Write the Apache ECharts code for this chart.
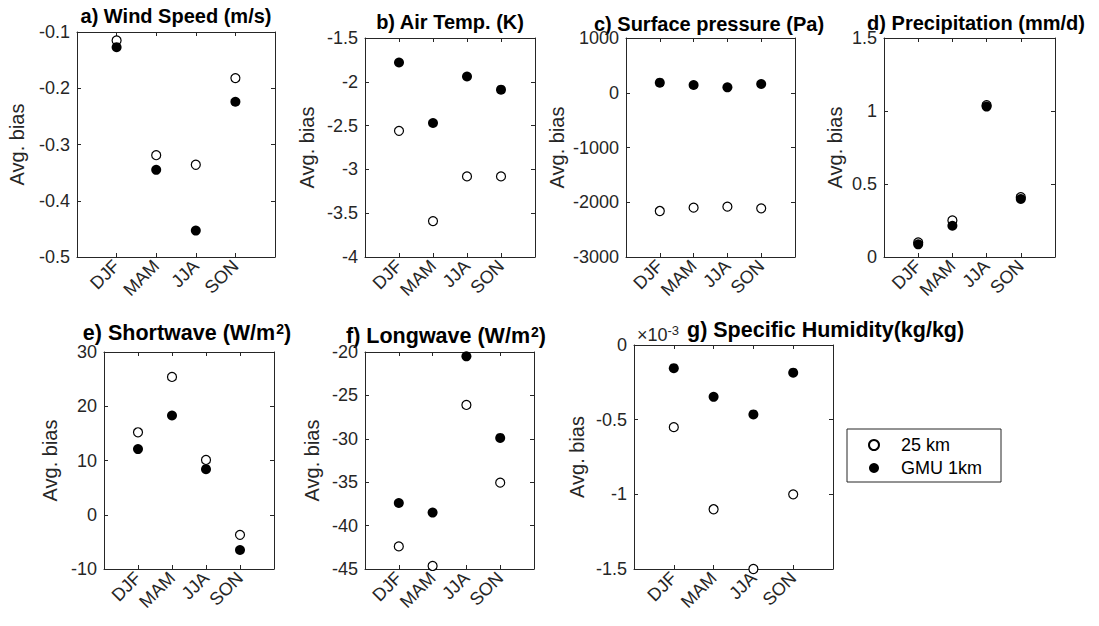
<!DOCTYPE html>
<html>
<head>
<meta charset="utf-8">
<script src="https://cdn.jsdelivr.net/npm/echarts@6/dist/echarts.min.js"></script>
<style>
html, body { margin: 0; padding: 0; background: #fff; }
#main { width: 1099px; height: 626px; }
</style>
</head>
<body>
<div id="main"></div>
<script>
var seasons = ['DJF', 'MAM', 'JJA', 'SON'];
var legendNames = ['25 km', 'GMU 1km'];
// {t|..} normal title text, {s|..} superscript
var titles = ['{t|a) Wind Speed (m/s)}', '{t|b) Air Temp. (K)}', '{t|c) Surface pressure (Pa)}',
    '{t|d) Precipitation (mm/d)}', '{t|e) Shortwave (W/m}{s|2}{t|)}', '{t|f) Longwave (W/m}{s|2}{t|)}',
    '{t|g) Specific Humidity(kg/kg)}'];

// avg. bias per season, 25 km (open) and GMU 1km (filled)
var wind25 = [-0.115, -0.319, -0.336, -0.182];
var windGmu = [-0.127, -0.345, -0.453, -0.224];
var temp25 = [-2.56, -3.59, -3.08, -3.08];
var tempGmu = [-1.78, -2.47, -1.94, -2.09];
var pres25 = [-2160, -2099, -2081, -2111];
var presGmu = [184, 141, 99, 160];
var prec25 = [0.10, 0.25, 1.04, 0.41];
var precGmu = [0.087, 0.214, 1.03, 0.397];
var sw25 = [15.2, 25.4, 10.1, -3.7];
var swGmu = [12.1, 18.3, 8.4, -6.5];
var lw25 = [-42.4, -44.65, -26.1, -35.05];
var lwGmu = [-37.4, -38.5, -20.5, -29.9];
var hum25 = [-0.55, -1.10, -1.50, -1.00];     // x 1e-3
var humGmu = [-0.155, -0.347, -0.465, -0.185]; // x 1e-3

// y axis [min, max, interval]
var yMin = [-0.5, -4, -3000, 0, -10, -45, -1.5];
var yMax = [-0.1, -1.5, 1000, 1.5, 30, -20, 0];
var yStep = [0.1, 0.5, 1000, 0.5, 10, 5, 0.5];

var open = [wind25, temp25, pres25, prec25, sw25, lw25, hum25];
var filled = [windGmu, tempGmu, presGmu, precGmu, swGmu, lwGmu, humGmu];

// plot boxes (px), title anchor and size
var boxes = [
    { left: 77, top: 32, width: 198, height: 225, gap: 50, tx: 176, ty: 16, ts: 20, ta: 'center' },
    { left: 365, top: 38, width: 170, height: 219, gap: 48, tx: 450, ty: 22, ts: 20, ta: 'center' },
    { left: 626, top: 38, width: 169, height: 219, gap: 59, tx: 709, ty: 24, ts: 20, ta: 'center' },
    { left: 884, top: 38, width: 171, height: 219, gap: 39, tx: 976, ty: 23, ts: 20, ta: 'center' },
    { left: 104, top: 352, width: 170, height: 217, gap: 44, tx: 187, ty: 333, ts: 21.5, ta: 'center' },
    { left: 365, top: 352, width: 169, height: 217, gap: 43, tx: 446, ty: 336, ts: 21.5, ta: 'center' },
    { left: 634, top: 345, width: 199, height: 224, gap: 47, tx: 687, ty: 330, ts: 21.5, ta: 'left' }
];

var axisColor = '#262626';
var font = "'Liberation Sans', Arial, sans-serif";

var grid = [], xAxis = [], yAxis = [], series = [], graphic = [];

boxes.forEach(function (b, i) {
    grid.push({ left: b.left, top: b.top, width: b.width, height: b.height, containLabel: false });
    var line = { show: true, onZero: false, lineStyle: { color: axisColor, width: 1 } };
    var tick = { show: true, inside: true, length: 4, lineStyle: { color: axisColor } };
    xAxis.push({
        type: 'value', gridIndex: i, position: 'bottom', min: 0, max: 5, interval: 1,
        axisLine: line, axisTick: tick, splitLine: { show: false },
        axisLabel: {
            rotate: 45, margin: 6, color: axisColor, fontSize: 18, fontFamily: font,
            formatter: function (v) { return seasons[v - 1] || ''; }
        }
    });
    xAxis.push({
        type: 'value', gridIndex: i, position: 'top', min: 0, max: 5, interval: 1,
        axisLine: line, axisTick: tick, splitLine: { show: false }, axisLabel: { show: false }
    });
    yAxis.push({
        type: 'value', gridIndex: i, position: 'left', min: yMin[i], max: yMax[i], interval: yStep[i],
        axisLine: line, axisTick: tick, splitLine: { show: false },
        name: 'Avg. bias', nameLocation: 'middle', nameRotate: 90, nameGap: b.gap,
        nameTextStyle: { color: axisColor, fontSize: 20, fontFamily: font },
        axisLabel: {
            margin: 7, color: axisColor, fontSize: 18, fontFamily: font,
            formatter: function (v) { return String(v); }
        }
    });
    yAxis.push({
        type: 'value', gridIndex: i, position: 'right', min: yMin[i], max: yMax[i], interval: yStep[i],
        axisLine: line, axisTick: tick, splitLine: { show: false }, axisLabel: { show: false }
    });

    series.push({
        name: legendNames[0], type: 'scatter', xAxisIndex: i * 2, yAxisIndex: i * 2,
        symbol: 'circle', symbolSize: 9, clip: false,
        itemStyle: { color: '#fff', borderColor: '#000', borderWidth: 1.2, opacity: 1 },
        emphasis: { disabled: true },
        data: open[i].map(function (v, k) { return [k + 1, v]; })
    });
    series.push({
        name: legendNames[1], type: 'scatter', xAxisIndex: i * 2, yAxisIndex: i * 2,
        symbol: 'circle', symbolSize: 10, clip: false,
        itemStyle: { color: '#000', opacity: 1 },
        emphasis: { disabled: true },
        data: filled[i].map(function (v, k) { return [k + 1, v]; })
    });

    graphic.push({
        type: 'text', x: b.tx, y: b.ty, silent: true,
        style: {
            text: titles[i], textAlign: b.ta, textVerticalAlign: 'middle',
            rich: {
                t: { fontSize: b.ts, fontWeight: 'bold', fontFamily: font, fill: '#000', color: '#000' },
                s: { fontSize: 14, fontWeight: 'bold', fontFamily: font, fill: '#000', color: '#000',
                    verticalAlign: 'top', padding: [0, 0, 8, 1] }
            }
        }
    });
});

// exponent label for g)
graphic.push({
    type: 'text', x: 637, y: 335, silent: true,
    style: {
        text: '{a|×10}{b|-3}', textVerticalAlign: 'middle',
        rich: {
            a: { fontSize: 18, fontFamily: font, fill: axisColor, color: axisColor },
            b: { fontSize: 13, fontFamily: font, fill: axisColor, color: axisColor, verticalAlign: 'top', padding: [0, 0, 9, 0] }
        }
    }
});

var myChart = echarts.init(document.getElementById('main'), null, { renderer: 'svg' });
myChart.setOption({
    backgroundColor: '#fff',
    animation: false,
    grid: grid,
    xAxis: xAxis,
    yAxis: yAxis,
    legend: {
        data: legendNames, orient: 'vertical', left: 847, top: 429,
        borderColor: axisColor, borderWidth: 1, padding: [7, 19, 5, 21],
        itemGap: 5, itemWidth: 10, itemHeight: 10, icon: 'circle',
        textStyle: { fontSize: 18, color: '#000', fontFamily: font, padding: [0, 0, 0, 17] }
    },
    graphic: graphic,
    series: series
});
window.addEventListener('resize', function () {
    myChart.resize();
});
</script>
</body>
</html>
